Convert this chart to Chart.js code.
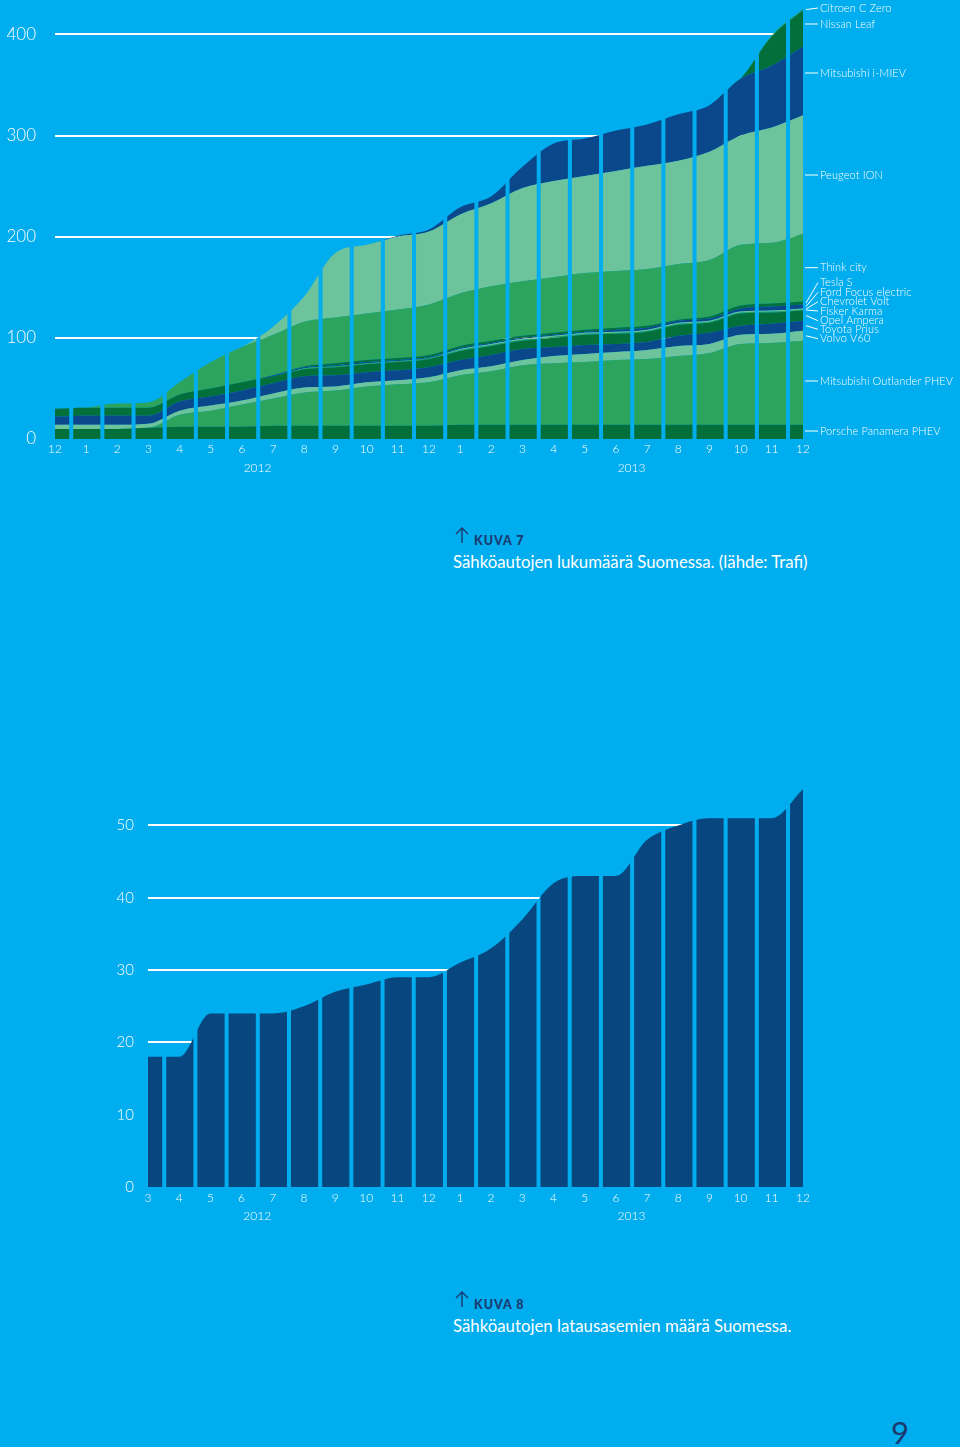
<!DOCTYPE html>
<html><head><meta charset="utf-8">
<script src="https://cdn.jsdelivr.net/npm/chart.js@4/dist/chart.umd.min.js"></script>
<style>
html,body{margin:0;padding:0;background:#00ADEE;width:960px;height:1447px;overflow:hidden;font-family:Lato,'Open Sans',sans-serif;}
#c1{position:absolute;left:0;top:0;}
#c2{position:absolute;left:0;top:760px;}
.kuva{position:absolute;left:455px;color:#1B3A70;font-weight:900;font-size:12.5px;letter-spacing:1px;line-height:16px;white-space:nowrap}
.kuva svg{position:absolute;left:0;top:-7px}
.kuva span{position:absolute;left:19px;top:0}
.cap{position:absolute;left:453px;color:#fff;font-size:16.8px;line-height:20px;white-space:nowrap}
.page{position:absolute;left:891px;top:1413px;color:#1B3A70;font-size:31px;line-height:38px;font-weight:400}
</style></head>
<body>
<canvas id="c1" width="960" height="480"></canvas>
<canvas id="c2" width="960" height="470"></canvas>
<div class="kuva" style="top:533px"><svg width="16" height="18" viewBox="0 0 16 18"><path d="M7 17V2M1 8L7 2L13 8" fill="none" stroke="#1B3A70" stroke-width="1.4"/></svg><span>KUVA 7</span></div>
<div class="cap" style="top:552px">Sähköautojen lukumäärä Suomessa. (lähde: Trafi)</div>
<div class="kuva" style="top:1297px"><svg width="16" height="18" viewBox="0 0 16 18"><path d="M7 17V2M1 8L7 2L13 8" fill="none" stroke="#1B3A70" stroke-width="1.4"/></svg><span>KUVA 8</span></div>
<div class="cap" style="top:1316px">Sähköautojen latausasemien määrä Suomessa.</div>
<div class="page">9</div>
<script>
// ---------- DATA ----------
const monthsTop = ['12','1','2','3','4','5','6','7','8','9','10','11','12','1','2','3','4','5','6','7','8','9','10','11','12'];
const yearsTop = ['2012','2013'];
const yearStartTop = [1, 13];

const seriesNames = ['Porsche Panamera PHEV','Mitsubishi Outlander PHEV','Volvo V60','Toyota Prius','Opel Ampera','Fisker Karma','Chevrolet Volt','Ford Focus electric','Tesla S','Think city','Peugeot ION','Mitsubishi i-MIEV','Nissan Leaf','Citroen C Zero'];
const porsche   = [10,10,10,11,12,12,12,13,13,13,13,13,13,14,14,14,14,14,14,14,14,14,14,14,14];
const outlander = [0,0,0,0,12,16,22,27,33,35,39,41,43,49,53,59,61,62,64,65,68,71,80,81,83];
const volvo     = [4,4,4,4,4,5,4,5,5,4,4,4,5,5,5,5,7,8,8,9,10,9,9,9,10];
const prius     = [8,9,9,8,9,9,10,10,11,11,10,10,10,10,11,11,9,9,8,8,10,11,9,10,10];
const ampera    = [8,8,8,8,7,8,8,7,7,8,8,8,8,9,9,8,9,10,10,10,11,10,12,11,10];
const fisker    = [0,0,0,0,0,0,0,0,1,1,1,1,1,1,1,1,1,1,1,1,1,1,1,1,1];
const volt      = [0,0,0,0,0,0,0,0,0,0,0,0,0,1,1,1,1,1,1,1,1,1,1,1,1];
const focus     = [0,0,0,0,0,0,0,1,1,1,1,1,1,1,1,1,1,1,2,2,2,2,3,4,4];
const tesla     = [0,0,0,0,0,0,0,0,1,2,2,2,2,2,2,2,2,2,2,2,1,2,3,3,3];
const think     = [0,0,4,5,12,26,35,40,44,45,46,48,50,52,54,54,55,56,56,56,55,56,60,60,67];
const peugeot   = [0,0,0,0,0,0,0,8,25,64,68,72,72,78,82,92,95,96,99,102,102,107,108,114,117];
const imiev     = [0,0,0,0,0,0,0,0,0,0,0,1,2,7,7,21,37,37,40,41,46,46,56,61,68];
const leaf      = [0,0,0,0,0,0,0,0,0,0,0,0,0,0,0,0,0,0,0,0,0,0,0,29,36];
const citroen   = [0,0,0,0,0,0,0,0,0,0,0,0,0,0,0,0,0,0,0,0,0,0,0,1,1];
const seriesValues = [porsche,outlander,volvo,prius,ampera,fisker,volt,focus,tesla,think,peugeot,imiev,leaf,citroen];

const monthsBottom = ['3','4','5','6','7','8','9','10','11','12','1','2','3','4','5','6','7','8','9','10','11','12'];
const yearsBottom = ['2012','2013'];
const yearStartBottom = [-2, 10];
const chargers = [18,18,24,24,24,25,27,28,29,29,31,33,37,42,43,43,48,50,51,51,51,55];

// ---------- STYLE ----------
const BG = '#00ADEE';
const DG = '#03703B', MG = '#2CA45E', LG = '#6DC39B', DB = '#0B488B';
const seriesColors = [DG,MG,LG,DB,DG,MG,LG,DB,DG,MG,LG,DB,DG,MG];
const labelYTop = [431,381,338.7,329.3,320.7,311,301.7,292.3,282.5,267.7,175,73,24,8];
const FONT = 'Lato, "Open Sans", sans-serif';

const stripesAndGrid = {
  id: 'stripesAndGrid',
  afterDatasetsDraw(chart) {
    const {ctx, chartArea: a, scales: {x, y}} = chart;
    ctx.save();
    ctx.globalCompositeOperation = 'source-atop';
    ctx.fillStyle = BG;
    const n = chart.data.labels.length;
    for (let i = 0; i < n - 1; i++) {
      const cx = x.getPixelForValue(i + 0.52);
      ctx.fillRect(cx - 2, a.top - 2, 4, a.bottom - a.top + 4);
    }
    ctx.globalCompositeOperation = 'destination-over';
    ctx.strokeStyle = '#FFFFFF';
    ctx.lineWidth = 2;
    y.ticks.forEach(t => {
      if (t.value === 0) return;
      const py = Math.round(y.getPixelForValue(t.value));
      ctx.beginPath(); ctx.moveTo(a.left, py); ctx.lineTo(a.right, py); ctx.stroke();
    });
    ctx.restore();
  }
};

const yearLabels = {
  id: 'yearLabels',
  afterDraw(chart, args, opts) {
    const {ctx, chartArea: a, scales: {x}} = chart;
    ctx.save();
    ctx.fillStyle = '#FFFFFF';
    ctx.font = '300 12px ' + FONT;
    ctx.textAlign = 'center'; ctx.textBaseline = 'middle';
    opts.years.forEach((yr, k) => {
      ctx.fillText(yr, x.getPixelForValue(opts.starts[k] + 5.5), a.bottom + 29);
    });
    ctx.restore();
  }
};

const sideLabels = {
  id: 'sideLabels',
  afterDraw(chart) {
    const {ctx, chartArea: a, scales: {y}} = chart;
    const last = chart.data.labels.length - 1;
    let cum = 0;
    ctx.save();
    ctx.fillStyle = '#FFFFFF'; ctx.strokeStyle = '#FFFFFF'; ctx.lineWidth = 1;
    ctx.font = '300 11px ' + FONT;
    try { ctx.letterSpacing = '0.1px'; } catch(e) {}
    ctx.textBaseline = 'middle';
    chart.data.datasets.forEach((ds, i) => {
      const v = ds.data[last];
      const top = y.getPixelForValue(cum + v), bot = y.getPixelForValue(cum);
      const mid = (top + bot) / 2;
      cum += v;
      const ly = labelYTop[i];
      ctx.beginPath();
      if (bot - top >= 12) { ctx.moveTo(a.right + 2, ly); ctx.lineTo(a.right + 15, ly); }
      else { ctx.moveTo(a.right + 3, mid); ctx.lineTo(a.right + 15, ly); }
      ctx.stroke();
      ctx.fillText(ds.label, a.right + 17, ly);
    });
    ctx.restore();
  }
};

function xAxis(height, pad) {
  return {
    grid: {display: false, drawTicks: false}, border: {display: false},
    ticks: {autoSkip: false, maxRotation: 0, color: '#FFFFFF', padding: pad, font: {family: FONT, size: 12, weight: '300'}},
    afterFit(s) { s.height = height; s.paddingLeft = 0; s.paddingRight = 0; }
  };
}
function yAxis(max, step, width, pad, size, stacked) {
  return {
    stacked, min: 0, max,
    grid: {display: false, drawTicks: false}, border: {display: false},
    ticks: {stepSize: step, includeBounds: false, color: '#FFFFFF', padding: pad, font: {family: FONT, size, weight: '300'}},
    afterFit(s) { s.width = width; s.paddingTop = 0; s.paddingBottom = 0; }
  };
}

new Chart(document.getElementById('c1'), {
  type: 'line',
  data: {
    labels: monthsTop,
    datasets: seriesNames.map((name, i) => ({
      label: name, data: seriesValues[i],
      backgroundColor: seriesColors[i], borderWidth: 0, pointRadius: 0,
      fill: i === 0 ? 'origin' : '-1', cubicInterpolationMode: 'monotone'
    }))
  },
  options: {
    responsive: false, animation: false, devicePixelRatio: 1,
    layout: {padding: {top: 4, right: 157, left: 0, bottom: 0}},
    plugins: {legend: {display: false}, tooltip: {enabled: false}, yearLabels: {years: yearsTop, starts: yearStartTop}},
    scales: {x: xAxis(41, 3), y: yAxis(430, 100, 55, 19, 17, true)}
  },
  plugins: [stripesAndGrid, yearLabels, sideLabels]
});

new Chart(document.getElementById('c2'), {
  type: 'line',
  data: {
    labels: monthsBottom,
    datasets: [{label: 'Latausasemat', data: chargers, backgroundColor: '#07467F', borderWidth: 0, pointRadius: 0, fill: 'origin', cubicInterpolationMode: 'monotone'}]
  },
  options: {
    responsive: false, animation: false, devicePixelRatio: 1,
    layout: {padding: {top: 22, right: 157, left: 0, bottom: 0}},
    plugins: {legend: {display: false}, tooltip: {enabled: false}, yearLabels: {years: yearsBottom, starts: yearStartBottom}},
    scales: {x: xAxis(43, 4), y: yAxis(56, 10, 148, 14, 15, false)}
  },
  plugins: [stripesAndGrid, yearLabels]
});
</script>
</body></html>
